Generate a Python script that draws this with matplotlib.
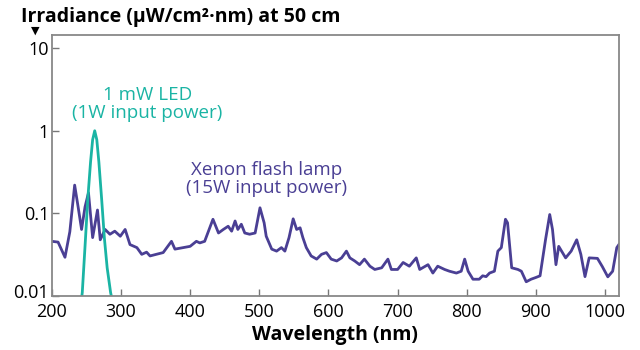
import matplotlib
matplotlib.use('Agg')
import matplotlib.pyplot as plt
import matplotlib.transforms as mtransforms

plt.rcParams['font.family'] = ['Open Sans', 'DejaVu Sans']

# xenon flash lamp spectrum
xenon_nm = [200, 209, 219, 226, 233, 238, 243, 248, 253, 259, 266, 270, 277, 284, 291,
            299, 306, 313, 323, 330, 337, 342, 351, 361, 373, 378, 390, 400, 409, 414,
            421, 433, 441, 448, 455, 460, 465, 469, 474, 479, 486, 494, 501, 507, 510,
            518, 525, 532, 537, 543, 549, 554, 559, 563, 568, 575, 583, 590, 597, 604,
            612, 619, 626, 631, 638, 645, 652, 660, 667, 677, 686, 691, 700, 708, 717,
            727, 732, 744, 751, 758, 768, 775, 785, 792, 797, 802, 809, 818, 823, 828,
            833, 840, 845, 850, 856, 859, 865, 874, 879, 886, 893, 900, 906, 914, 920,
            924, 929, 933, 943, 951, 959, 965, 971, 977, 989, 996, 1004, 1011, 1017, 1020]
xenon_val = [0.046, 0.045, 0.0295, 0.06, 0.22, 0.12, 0.064, 0.12, 0.178, 0.051, 0.11, 0.048, 0.064, 0.056, 0.061,
             0.053, 0.064, 0.042, 0.0386, 0.032, 0.034, 0.0306, 0.032, 0.0336, 0.046, 0.037, 0.0386, 0.040, 0.046, 0.044,
             0.046, 0.085, 0.058, 0.064, 0.07, 0.061, 0.081, 0.064, 0.074, 0.058, 0.056, 0.058, 0.117, 0.077, 0.053,
             0.037, 0.035, 0.0386, 0.035, 0.051, 0.086, 0.064, 0.067, 0.051, 0.0386, 0.0306, 0.028, 0.032, 0.0336, 0.028,
             0.0266, 0.029, 0.035, 0.029, 0.0266, 0.024, 0.028, 0.023, 0.021, 0.022, 0.028, 0.021, 0.021, 0.0255, 0.023,
             0.029, 0.021, 0.024, 0.019, 0.023, 0.021, 0.020, 0.019, 0.020, 0.028, 0.020, 0.016, 0.016, 0.0176, 0.0172,
             0.019, 0.020, 0.035, 0.0386, 0.085, 0.077, 0.022, 0.021, 0.020, 0.0149, 0.016, 0.0168, 0.0176, 0.0486, 0.097,
             0.064, 0.024, 0.040, 0.029, 0.035, 0.048, 0.032, 0.0172, 0.029, 0.0286, 0.0228, 0.0171, 0.020, 0.0386, 0.042]

# 1 mW LED spectrum
led_nm = [236, 240, 244, 248, 252, 256, 259, 262, 265, 268, 272, 276, 280, 285, 290, 295]
led_val = [0.004, 0.006, 0.011, 0.04, 0.15, 0.42, 0.78, 1.0, 0.78, 0.42, 0.15, 0.05, 0.022, 0.011, 0.007, 0.005]

x_ticks = [200, 300, 400, 500, 600, 700, 800, 900, 1000]
y_ticks = [0.01, 0.1, 1, 10]
y_labels = ['0.01', '0.1', '1', '10']

teal = '#1ab4a4'
purple = '#4a3f94'

fig = plt.figure(figsize=(6.4, 3.5), dpi=100)
ax = fig.add_axes([0.081, 0.154, 0.886, 0.746])

ax.plot(xenon_nm, xenon_val, color=purple, lw=2)
ax.plot(led_nm, led_val, color=teal, lw=2)

ax.set_yscale('log')
ax.set_xlim(200, 1020)
ax.set_ylim(0.01, 14.4)
ax.set_xticks(x_ticks)
ax.set_yticks(y_ticks)
ax.set_yticklabels(y_labels)
ax.minorticks_off()
ax.tick_params(direction='in', length=5, width=1, color='#777777', labelsize=13)
ax.tick_params(axis='x', pad=5)
ax.tick_params(axis='y', pad=2)

# the bottom y label sits a little above its tick in the original
lab = ax.get_yticklabels()[0]
lab.set_transform(lab.get_transform() + mtransforms.ScaledTranslation(0, 5 / 100, fig.dpi_scale_trans))

for s in ax.spines.values():
    s.set_color('#888888')
    s.set_linewidth(1.3)

ax.set_xlabel('Wavelength (nm)', fontsize=14, fontweight='bold', labelpad=3)

ax.text(338, 2.1, '1 mW LED\n(1W input power)', color=teal, fontsize=13.5,
        ha='center', va='center', linespacing=1.05)
ax.text(510, 0.26, 'Xenon flash lamp\n(15W input power)', color=purple, fontsize=13.5,
        ha='center', va='center', linespacing=1.05)

fig.text(21 / 640, 0.951, 'Irradiance (µW/cm²·nm) at 50 cm', fontsize=14,
         fontweight='bold', ha='left', va='center')
fig.text(35 / 640, 1 - 31 / 350, '▼', fontsize=8, ha='center', va='center', family='DejaVu Sans')

plt.savefig('out.png', dpi=100)
